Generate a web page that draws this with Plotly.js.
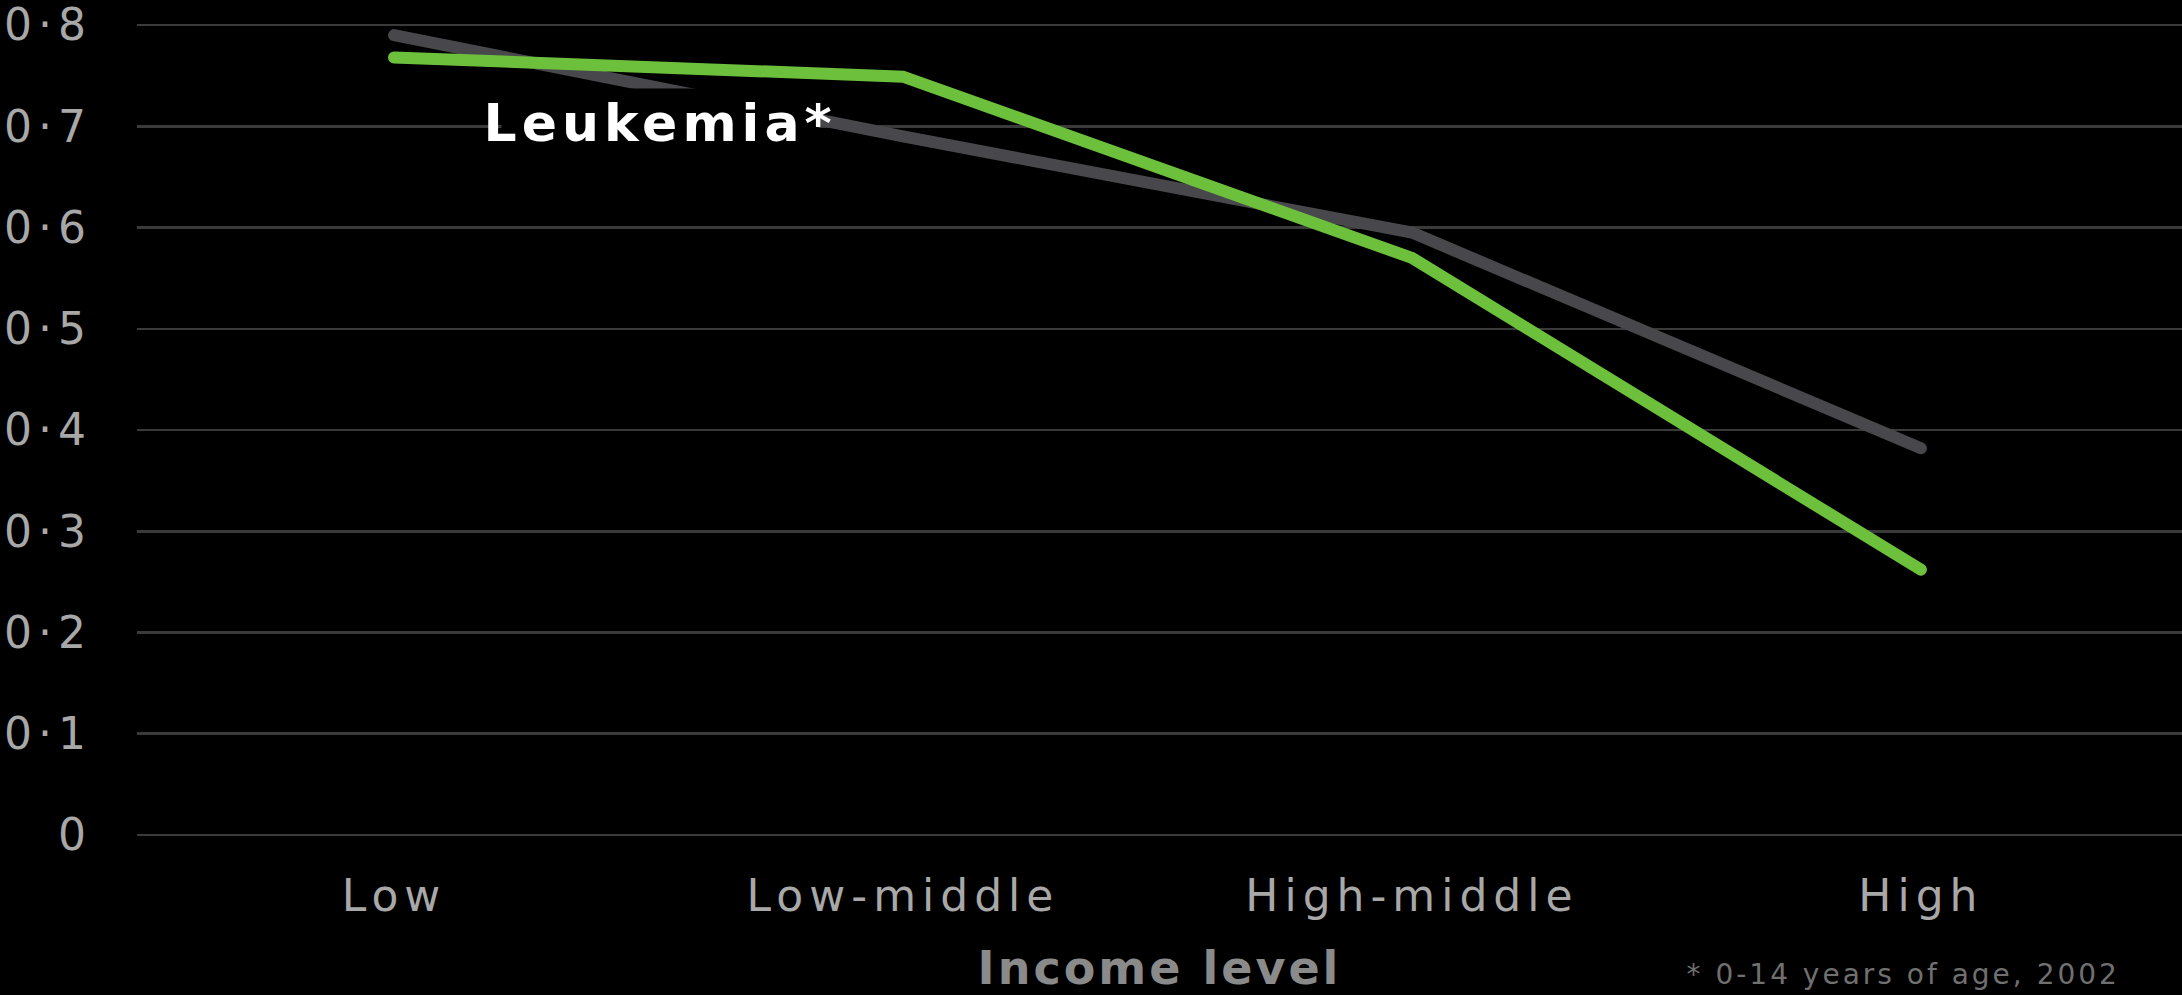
<!DOCTYPE html>
<html>
<head>
<meta charset="utf-8">
<script src="https://cdn.plot.ly/plotly-3.0.1.min.js"></script>
<style>
  html, body { margin: 0; padding: 0; background: #000; }
  #chart { width: 2182px; height: 995px; }
  .xtick text, .ytick text { letter-spacing: 6px; }
  .g-xtitle text { letter-spacing: 3px; }
  .annotation[data-index="0"] .annotation-text { letter-spacing: 5px; }
  .annotation[data-index="1"] .annotation-text { letter-spacing: 3px; }
  .scatterlayer path.js-line { stroke-linecap: round; }
</style>
</head>
<body>
<div id="chart"></div>
<script>
// Data
const categories = ["Low", "Low-middle", "High-middle", "High"];
const leukemiaAll = [0.79, 0.69, 0.595, 0.382];   // grey line
const leukemiaKids = [0.768, 0.749, 0.570, 0.262]; // green line (0-14 years)
const yTickVals = [0, 0.1, 0.2, 0.3, 0.4, 0.5, 0.6, 0.7, 0.8];
const yTickText = ["0", "0·1", "0·2", "0·3", "0·4", "0·5", "0·6", "0·7", "0·8"];

const traces = [
  {
    x: categories, y: leukemiaAll, type: "scatter", mode: "lines",
    line: { color: "#48484c", width: 12 }, hoverinfo: "skip", showlegend: false
  },
  {
    x: categories, y: leukemiaKids, type: "scatter", mode: "lines",
    line: { color: "#6cc03c", width: 12 }, hoverinfo: "skip", showlegend: false
  }
];

const layout = {
  width: 2182, height: 995,
  paper_bgcolor: "#000", plot_bgcolor: "#000",
  margin: { l: 137, r: 0, t: 0, b: 135 },
  showlegend: false,
  xaxis: {
    type: "category",
    range: [-0.505, 3.513],
    showgrid: false, zeroline: false, showline: false, ticks: "",
    tickfont: { family: "DejaVu Sans", size: 44, color: "#a8a8a8" },
    ticklabelstandoff: 6,
    title: {
      text: "Income level",
      font: { family: "DejaVu Sans", size: 46, color: "#8a8a8a", weight: "bold" },
      standoff: 32
    },
    automargin: false
  },
  yaxis: {
    range: [-0.0247, 0.8247],
    tickvals: yTickVals, ticktext: yTickText,
    showgrid: true, gridcolor: "#3a3a3a", gridwidth: 2.5,
    zeroline: false, showline: false, ticks: "",
    tickfont: { family: "DejaVu Sans", size: 44, color: "#a8a8a8" },
    ticklabelstandoff: 44,
    ticklabeloverflow: "allow",
    automargin: false
  },
  annotations: [
    {
      x: 0.523, y: 0.703, xref: "x", yref: "y",
      text: "<b>Leukemia*</b>", showarrow: false,
      font: { family: "DejaVu Sans", size: 52, color: "#ffffff" },
      bgcolor: "#000", borderpad: 4, xanchor: "center", yanchor: "middle"
    },
    {
      x: (1722 - 137) / 2045, y: -0.133, xref: "paper", yref: "paper",
      text: "* 0-14 years of age, 2002", showarrow: false,
      font: { family: "DejaVu Sans", size: 28, color: "#707070" },
      xanchor: "left", yanchor: "middle"
    }
  ]
};

Plotly.newPlot("chart", traces, layout, { staticPlot: true, displayModeBar: false });
</script>
</body>
</html>
